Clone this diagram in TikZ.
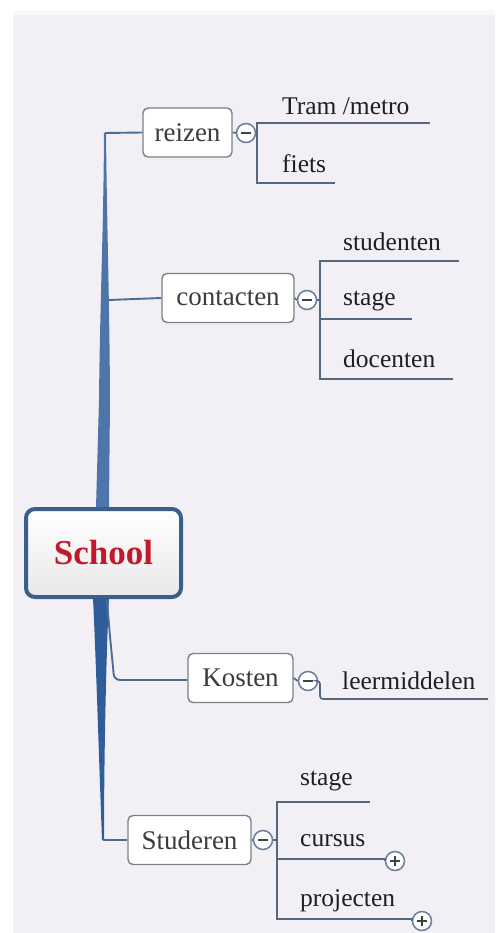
\documentclass[tikz,border=0pt]{standalone}
\usepackage{fontspec}
\setmainfont{Liberation Serif}
\definecolor{bgc}{HTML}{F3F0F5}
\definecolor{trunkc}{HTML}{2F5D9A}
\definecolor{branchc}{HTML}{4F6C96}
\definecolor{childc}{HTML}{56687F}
\definecolor{boxc}{HTML}{7C8088}
\definecolor{schoolc}{HTML}{3A5E8E}
\definecolor{redc}{HTML}{C2182B}
\definecolor{txtc}{HTML}{3C3C3C}
\definecolor{ctlc}{HTML}{6C7E9A}
\begin{document}
\begin{tikzpicture}[x=1pt,y=-1pt,
  topic/.style={draw=boxc,line width=1.4pt,fill=white,rounded corners=5pt,inner sep=0pt,
    minimum height=49pt,text=txtc,font=\fontsize{27}{30}\selectfont},
  child/.style={anchor=west,inner sep=0pt,text=black!88,font=\fontsize{25.5}{28}\selectfont},
  chl/.style={draw=childc,line width=1.7pt},
  brl/.style={draw=branchc,line width=1.9pt},
  ctlbase/.style={circle,draw=ctlc,line width=1.5pt,fill=white,minimum size=19pt,inner sep=0pt},
  minusbtn/.style={ctlbase,path picture={\draw[line width=1.7pt,black!75]
      ([xshift=-5pt]path picture bounding box.center) -- ([xshift=5pt]path picture bounding box.center);}},
  plusbtn/.style={ctlbase,path picture={\draw[line width=1.7pt,black!75]
      ([xshift=-5pt]path picture bounding box.center) -- ([xshift=5pt]path picture bounding box.center)
      ([yshift=-5pt]path picture bounding box.center) -- ([yshift=5pt]path picture bounding box.center);}}
]
\useasboundingbox (0,0) rectangle (495,933);
\fill[white] (0,0) rectangle (495,933);
\fill[bgc] (13,10) rectangle (495,933);
\fill[white!60!bgc] (13,10) rectangle (495,15);

% trunk upper
\coordinate (ttop) at (105,133);
\coordinate (tcon) at (109,300);
\fill[trunkc!85] (104,133) .. controls (103.5,230) and (100,300) .. (99,400) -- (96,508)
  -- (109,508) -- (110,400) .. controls (109.5,300) and (107,230) .. (106,133) -- cycle;
% trunk lower
\coordinate (tbot) at (103,840);
\fill[trunkc] (93,598) .. controls (96,660) and (99,760) .. (102,840)
  -- (104,840) .. controls (104,760) and (106,660) .. (109,598) -- cycle;

% School
\node[draw=schoolc,line width=4pt,rounded corners=9pt,top color=white,bottom color=gray!18,
  minimum width=155pt,minimum height=88pt,inner sep=0pt,text=redc,
  font=\fontsize{35}{40}\selectfont\bfseries] (school) at (103.5,553) {School};

% reizen
\node[topic,minimum width=89pt] (reizen) at (187.5,132.5) {reizen};
\draw[brl] (ttop) -- (reizen.west);
\node[minusbtn] (m1) at (246,133) {};
\draw[chl] (reizen.east) -- (m1.west);
\coordinate (r1) at (430,123);
\coordinate (r2) at (335,183);
\draw[chl] (m1.east) -- ++(1,0) coordinate (b1);
\draw[chl] (b1) |- (r1);
\draw[chl] (b1) |- (r2);
\node[child] (tram) at (282,106) {Tram /metro};
\node[child] (fiets) at (282,164) {fiets};

% contacten
\node[topic,minimum width=132pt] (contacten) at (228,298) {contacten};
\draw[brl] (tcon) -- (contacten.west);
\node[minusbtn] (m2) at (307,300) {};
\draw[chl] (contacten.east) -- (m2.west);
\draw[chl] (m2.east) -- ++(3,0) coordinate (b2);
\coordinate (c1) at (459,261);
\coordinate (c2) at (412,319);
\coordinate (c3) at (453,379);
\draw[chl] (b2) |- (c1);
\draw[chl] (b2) |- (c2);
\draw[chl] (b2) |- (c3);
\node[child] (studenten) at (343,242) {studenten};
\node[child] (stage1) at (343,301) {stage};
\node[child] (docenten) at (343,359) {docenten};

% Kosten
\node[topic,minimum width=105pt] (kosten) at (240.5,678) {Kosten};
\coordinate (kstart) at (107,600);
\draw[brl,rounded corners=6pt] (kstart) .. controls (110,640) and (113,665) .. (114,680) -- (kosten.west|-0,680);
\node[minusbtn] (m3) at (308,681) {};
\draw[chl] (kosten.east) -- (m3.west);
\coordinate (l1) at (488,699);
\draw[chl,rounded corners=3pt] (m3.east) -- (320,681) |- (l1);
\node[child] (leer) at (342,681) {leermiddelen};

% Studeren
\node[topic,minimum width=123pt] (studeren) at (189.5,840) {Studeren};
\draw[brl] (tbot) -- (studeren.west);
\node[minusbtn] (m4) at (263,840) {};
\draw[chl] (studeren.east) -- (m4.west);
\draw[chl] (m4.east) -- ++(4,0) coordinate (b4);
\coordinate (s1) at (370,802);
\node[plusbtn] (p1) at (395,861) {};
\node[plusbtn] (p2) at (422,921) {};
\draw[chl] (b4) |- (s1);
\draw[chl] (b4) |- (p1.west|-0,859) -- (p1.west);
\draw[chl] (b4) |- (p2.west|-0,919) -- (p2.west);
\node[child] (stage2) at (300,781) {stage};
\node[child] (cursus) at (300,841) {cursus};
\node[child] (projecten) at (300,901) {projecten};
\end{tikzpicture}
\end{document}
